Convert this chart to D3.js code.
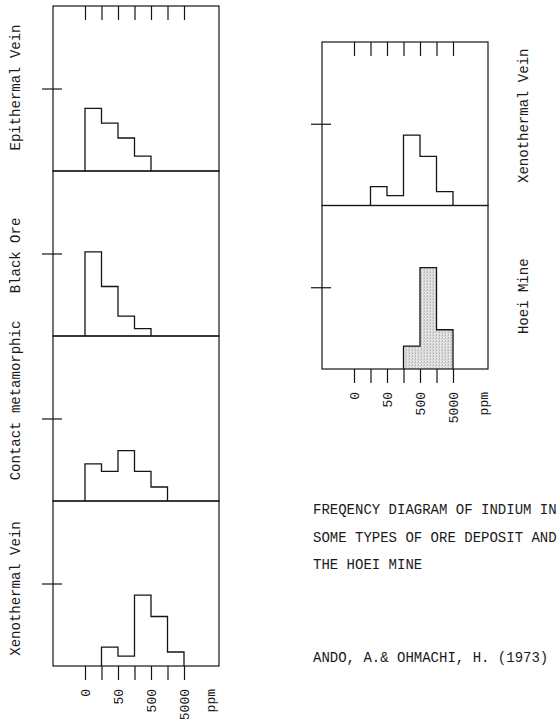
<!DOCTYPE html>
<html>
<head>
<meta charset="utf-8">
<script src="https://cdn.jsdelivr.net/npm/d3@7"></script>
<style>
    body { margin: 0; background: #fff; }
    text { font-family: "Liberation Mono", "Courier New", monospace; fill: #1a1a1a; }
</style>
</head>
<body>
<svg id="chart" width="559" height="719"></svg>
<script>
// class ticks (half-log steps), labelled every other one
const tickIndex = [0, 1, 2, 3, 4, 5, 6];
const tickLabels = ['0', '', '50', '', '500', '', '5000'];
const unitLabel = 'ppm';
// frequency (%) in the six classes between the ticks
const epithermal = [38, 29, 20, 9, 0, 0];
const blackOre = [51, 30, 12, 4.5, 0, 0];
const contactMeta = [22.5, 18, 30.5, 18, 8.5, 0];
const xenothermal = [0, 11.5, 6, 43, 30, 8.5];
const hoeiMine = [0, 0, 0, 14, 62, 24];
const yTick = [50];

const titleLines = [
    'FREQENCY DIAGRAM OF INDIUM IN',
    'SOME TYPES OF ORE DEPOSIT AND',
    'THE HOEI MINE'
];
const citation = 'ANDO, A.& OHMACHI, H. (1973)';

const svg = d3.select('#chart');

// stipple for the Hoei Mine histogram
const pat = svg.append('defs').append('pattern')
    .attr('id', 'dots')
    .attr('width', 3).attr('height', 3)
    .attr('patternUnits', 'userSpaceOnUse');
pat.append('rect').attr('width', 3).attr('height', 3).attr('fill', '#e6e6e6');
pat.append('rect').attr('width', 1).attr('height', 1).attr('fill', '#8e8e8e');
pat.append('rect').attr('x', 2).attr('y', 1).attr('width', 1).attr('height', 1).attr('fill', '#b5b5b5');

const STROKE = '#151515';

const charts = [
    {
        x0: 53, top: 6, ph: 165, labelX: 20, ppmDx: 26,
        panels: [
            {name: 'Epithermal Vein', values: epithermal, shift: -1},
            {name: 'Black Ore', values: blackOre, shift: 2},
            {name: 'Contact metamorphic', values: contactMeta, shift: -18},
            {name: 'Xenothermal Vein', values: xenothermal, shift: 5}
        ]
    },
    {
        x0: 322, top: 42, ph: 163.5, labelX: 528, ppmDx: 30,
        panels: [
            {name: 'Xenothermal Vein', values: xenothermal, shift: -8},
            {name: 'Hoei Mine', values: hoeiMine, shift: 9, fill: 'url(#dots)'}
        ]
    }
];

const boxW = 166;

charts.forEach(c => {
    const g = svg.append('g').attr('transform', `translate(${c.x0},${c.top})`);
    const x = d3.scaleLinear().domain([0, 6]).range([32, 131]);
    const y = d3.scaleLinear().domain([0, 100]).range([c.ph, 0]);
    const bottom = c.ph * c.panels.length;

    c.panels.forEach((p, k) => {
        const pg = g.append('g').attr('transform', `translate(0,${k * c.ph})`);

        // step outline of the histogram
        const idx = p.values.map((v, i) => v > 0 ? i : -1).filter(i => i >= 0);
        const first = idx[0], last = idx[idx.length - 1];
        const pts = [[first, 0]];
        for (let i = first; i <= last; i++) {
            pts.push([i, p.values[i]], [i + 1, p.values[i]]);
        }
        pts.push([last + 1, 0]);
        const line = d3.line().x(d => x(d[0])).y(d => y(d[1]));
        if (p.fill) {
            pg.append('path').attr('d', line(pts) + 'Z').attr('fill', p.fill);
        }
        pg.append('path')
            .attr('d', line(pts))
            .attr('fill', 'none')
            .attr('stroke', STROKE)
            .attr('stroke-width', 1.3);

        // frequency tick crossing the left edge
        const yAxis = d3.axisLeft(y).tickValues(yTick).tickSize(20).tickFormat('');
        const yg = pg.append('g').attr('transform', 'translate(9,0)').call(yAxis);
        yg.select('.domain').remove();
        yg.selectAll('line').attr('stroke', STROKE).attr('stroke-width', 1.2);

        pg.append('rect')
            .attr('width', boxW).attr('height', c.ph)
            .attr('fill', 'none')
            .attr('stroke', STROKE)
            .attr('stroke-width', 1.2);

        // panel name, rotated
        g.append('text')
            .attr('transform', `translate(${c.labelX - c.x0},${k * c.ph + c.ph / 2 + p.shift}) rotate(-90)`)
            .attr('text-anchor', 'middle')
            .style('font-size', '14px')
            .text(p.name);
    });

    // inner ticks at the top
    const topAxis = d3.axisBottom(x).tickValues(tickIndex).tickSize(14).tickFormat('');
    const tg = g.append('g').call(topAxis);
    tg.select('.domain').remove();
    tg.selectAll('line').attr('stroke', STROKE).attr('stroke-width', 1.2);

    // class ticks and labels at the bottom
    const bAxis = d3.axisBottom(x).tickValues(tickIndex).tickSize(14)
        .tickFormat(i => tickLabels[i]);
    const bg = g.append('g').attr('transform', `translate(0,${bottom})`).call(bAxis);
    bg.select('.domain').remove();
    bg.selectAll('line').attr('stroke', STROKE).attr('stroke-width', 1.2);
    bg.selectAll('text')
        .attr('transform', 'rotate(-90)')
        .attr('text-anchor', 'end')
        .attr('x', -23).attr('y', 0).attr('dy', '0.35em')
        .style('font-size', '13px')
        .style('font-family', '"Liberation Mono", "Courier New", monospace')
        .attr('fill', '#1a1a1a');

    g.append('text')
        .attr('transform', `translate(${x(6) + c.ppmDx},${bottom + 23}) rotate(-90)`)
        .attr('text-anchor', 'end')
        .attr('dy', '0.35em')
        .style('font-size', '13px')
        .text(unitLabel);
});

// caption
const cap = svg.append('g').attr('transform', 'translate(313,0)');
titleLines.forEach((t, i) => {
    cap.append('text')
        .attr('y', 514 + i * 27.5)
        .style('font-size', '14px')
        .text(t);
});
cap.append('text')
    .attr('y', 662)
    .style('font-size', '14px')
    .text(citation);
</script>
</body>
</html>
